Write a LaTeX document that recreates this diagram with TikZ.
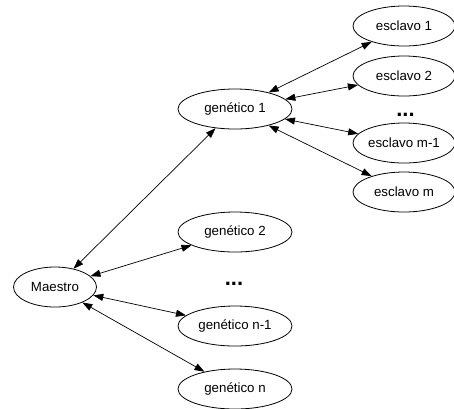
\documentclass[tikz,border=0pt]{standalone}
\usepackage{fontspec}
\setmainfont{Liberation Sans}
\usetikzlibrary{shapes.geometric,arrows.meta}
\begin{document}
\begin{tikzpicture}[x=1pt,y=-1pt,
  ell/.style={ellipse,draw,line width=0.8pt,inner sep=0pt,minimum height=40pt,font=\fontsize{13.3}{15}\selectfont},
  gen/.style={ell,minimum width=114pt},
  esc/.style={ell,minimum width=102pt},
  mae/.style={ell,minimum width=83pt},
  dotsnode/.style={inner sep=0pt,font=\fontsize{22}{24}\selectfont\bfseries},
  link/.style={line width=0.7pt,{Triangle[length=10pt,width=7pt]}-{Triangle[length=10pt,width=7pt]}}]
\useasboundingbox (0,0) rectangle (454,408);
\node[mae] (m) at (55,287) {Maestro};
\node[gen] (g1) at (235,109) {genético 1};
\node[gen] (g2) at (235,232) {genético 2};
\node[gen] (gn1) at (235,326) {genético n-1};
\node[gen] (gn) at (235,389) {genético n};
\node[esc] (e1) at (404,26) {esclavo 1};
\node[esc] (e2) at (404,76) {esclavo 2};
\node[esc] (em1) at (404,143) {esclavo m-1};
\node[esc] (em) at (404,192) {esclavo m};
\node[dotsnode] (d1) at (405.5,115) {...};
\node[dotsnode] (d2) at (234,284) {...};
\draw[link] (m) -- (g1);
\draw[link] (m) -- (g2);
\draw[link] (m) -- (gn1);
\draw[link] (m) -- (gn);
\draw[link] (g1) -- (e1);
\draw[link] (g1) -- (e2);
\draw[link] (g1) -- (em1);
\draw[link] (g1) -- (em);
\end{tikzpicture}
\end{document}
